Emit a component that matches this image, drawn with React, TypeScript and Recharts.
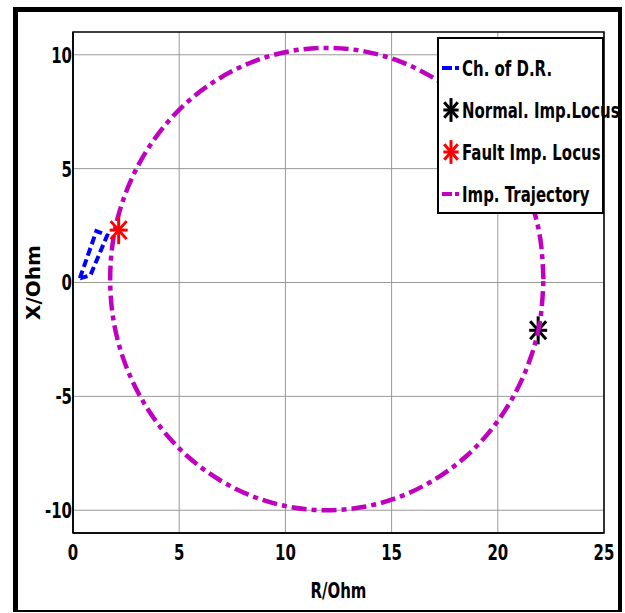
import React from 'react';
import { ScatterChart, Scatter, XAxis, YAxis, CartesianGrid, ReferenceArea } from 'recharts';

// R / X in Ohm
const drR = [0.32, 0.82, 1.61, 1.1, 0.32];
const drX = [0.18, 0.32, 2.07, 2.26, 0.18];

const trajR = [22.15, 22.0, 21.54, 20.78, 19.76, 18.51, 17.05, 15.44, 13.72, 11.95, 10.18, 8.46, 6.85, 5.39, 4.14, 3.12, 2.36, 1.9, 1.75, 1.9, 2.36, 3.12, 4.14, 5.39, 6.85, 8.46, 10.18, 11.95, 13.72, 15.44, 17.05, 18.51, 19.76, 20.78, 21.54, 22.0, 22.15];
const trajX = [0.15, 1.92, 3.62, 5.23, 6.68, 7.93, 8.94, 9.69, 10.15, 10.3, 10.15, 9.69, 8.94, 7.93, 6.68, 5.23, 3.62, 1.92, 0.15, -1.62, -3.32, -4.93, -6.38, -7.63, -8.64, -9.39, -9.85, -10.0, -9.85, -9.39, -8.64, -7.63, -6.38, -4.93, -3.32, -1.62, 0.15];

const normalPoint = [{ r: 21.9, x: -2.1 }];
const faultPoint = [{ r: 2.15, x: 2.3 }];

const xTicks = [0, 5, 10, 15, 20, 25];
const yTicks = [-10, -5, 0, 5, 10];

const seriesNames = ['Ch. of D.R.', 'Normal. Imp.Locus', 'Fault Imp. Locus', 'Imp. Trajectory'];

const drData = drR.map((r, i) => ({ r, x: drX[i] }));
const trajData = trajR.map((r, i) => ({ r, x: trajX[i] }));

const FONT = '"DejaVu Sans", sans-serif';
const SQUEEZE = 0.68;
const MAGENTA = '#BF00BF';
const BLUE = '#0000FF';

const Star = ({ cx, cy, color, s = 1 }: any) => (
  <g stroke={color} strokeWidth={3} strokeLinecap="butt">
    <line x1={cx} y1={cy - 14 * s} x2={cx} y2={cy + 14 * s} />
    <line x1={cx - 9 * s} y1={cy} x2={cx + 9 * s} y2={cy} />
    <line x1={cx - 8 * s} y1={cy - 9 * s} x2={cx + 8 * s} y2={cy + 9 * s} />
    <line x1={cx - 8 * s} y1={cy + 9 * s} x2={cx + 8 * s} y2={cy - 9 * s} />
  </g>
);

const noDot = () => <g />;

// narrow bold text, like the condensed font in the picture
const NarrowText = ({ x, y, anchor, dy, children }: any) => (
  <g transform={`translate(${x},${y})`}>
    <text transform={`scale(${SQUEEZE},1)`} textAnchor={anchor} dy={dy} fill="#000" fontSize={22} fontWeight="bold" fontFamily={FONT}>
      {children}
    </text>
  </g>
);

const XTick = (p: any) => (
  <NarrowText x={p.x} y={p.y} anchor="middle" dy="0.72em">
    {p.payload.value}
  </NarrowText>
);

const YTick = (p: any) => (
  <NarrowText x={p.x} y={p.y} anchor="end" dy="0.36em">
    {p.payload.value}
  </NarrowText>
);

const LegendBox = () => {
  const icons = [
    <line x1={2} y1={21} x2={20} y2={21} stroke={BLUE} strokeWidth={4} strokeDasharray="10 3 4 3" />,
    <Star cx={11} cy={21} color="#000" s={0.85} />,
    <Star cx={11} cy={21} color="#FF0000" s={0.85} />,
    <line x1={2} y1={21} x2={20} y2={21} stroke={MAGENTA} strokeWidth={4} strokeDasharray="10 3 4 3" />,
  ];
  return (
    <div
      style={{
        position: 'absolute',
        left: 437,
        top: 37,
        width: 167,
        height: 177,
        border: '2px solid #000',
        background: '#fff',
        boxSizing: 'border-box',
        paddingTop: 8,
      }}
    >
      {seriesNames.map((name, i) => (
        <div key={name} style={{ display: 'flex', alignItems: 'center', height: 42 }}>
          <svg width={22} height={42} style={{ flexShrink: 0, marginLeft: 1 }}>
            {icons[i]}
          </svg>
          <span
            style={{
              fontFamily: FONT,
              fontWeight: 'bold',
              fontSize: 22,
              color: '#000',
              whiteSpace: 'nowrap',
              display: 'inline-block',
              transform: `scaleX(${SQUEEZE})`,
              transformOrigin: 'left center',
            }}
          >
            {name}
          </span>
        </div>
      ))}
    </div>
  );
};

export default function App() {
  return (
    <div style={{ position: 'absolute', left: 0, top: 0, width: 625, height: 613, background: '#fff' }}>
      <div
        style={{
          position: 'absolute',
          left: 13,
          top: 7,
          width: 609,
          height: 605,
          boxSizing: 'border-box',
          borderLeft: '5px solid #000',
          borderTop: '5px solid #000',
          borderRight: '4px solid #000',
          borderBottom: '2px solid #000',
        }}
      />
      <ScatterChart width={625} height={613} margin={{ top: 32, right: 21, bottom: 10, left: 0 }}>
        <CartesianGrid stroke="#999" strokeWidth={1} horizontalValues={yTicks} verticalValues={xTicks} />
        <XAxis
          type="number"
          dataKey="r"
          domain={[0, 25]}
          ticks={xTicks}
          allowDataOverflow
          height={70}
          tickSize={0}
          tickMargin={11}
          tickLine={false}
          axisLine={{ stroke: '#000', strokeWidth: 1.5 }}
          tick={XTick}
          label={(p: any) => {
            const vb = p.viewBox || { x: 73, width: 531, y: 533 };
            return (
              <NarrowText x={vb.x + vb.width / 2} y={598} anchor="middle" dy={0}>
                R/Ohm
              </NarrowText>
            );
          }}
        />
        <YAxis
          type="number"
          dataKey="x"
          domain={[-11, 11]}
          ticks={yTicks}
          allowDataOverflow
          width={73}
          tickSize={0}
          tickMargin={1}
          tickLine={false}
          axisLine={{ stroke: '#000', strokeWidth: 1.5 }}
          tick={YTick}
          label={(p: any) => {
            const vb = p.viewBox || { y: 32, height: 501 };
            const cy = vb.y + vb.height / 2;
            return (
              <text
                x={33}
                y={cy}
                transform={`rotate(-90 33 ${cy})`}
                textAnchor="middle"
                dominantBaseline="central"
                fill="#000"
                fontSize={20}
                fontWeight="bold"
                fontFamily={FONT}
              >
                X/Ohm
              </text>
            );
          }}
        />
        <ReferenceArea x1={0} x2={25} y1={-11} y2={11} fill="none" stroke="#000" strokeWidth={1.5} ifOverflow="visible" />
        <Scatter
          name={seriesNames[0]}
          data={drData}
          line={{ stroke: BLUE, strokeWidth: 4, strokeDasharray: '8 4' }}
          lineType="joint"
          shape={noDot}
          isAnimationActive={false}
        />
        <Scatter
          name={seriesNames[1]}
          data={normalPoint}
          shape={(p: any) => <Star cx={p.cx} cy={p.cy} color="#000" />}
          isAnimationActive={false}
        />
        <Scatter
          name={seriesNames[3]}
          data={trajData}
          line={{ stroke: MAGENTA, strokeWidth: 4.5, strokeDasharray: '15 5 5 5' }}
          lineType="joint"
          lineJointType="natural"
          shape={noDot}
          isAnimationActive={false}
        />
        <Scatter
          name={seriesNames[2]}
          data={faultPoint}
          shape={(p: any) => <Star cx={p.cx} cy={p.cy} color="#FF0000" />}
          isAnimationActive={false}
        />
      </ScatterChart>
      <LegendBox />
    </div>
  );
}
